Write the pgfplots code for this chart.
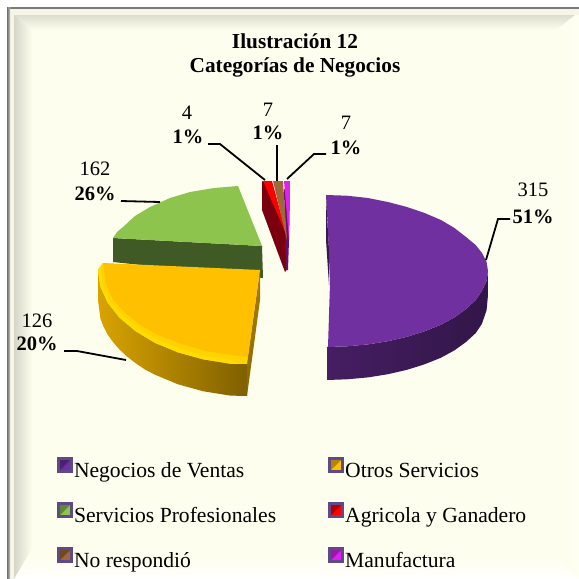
\documentclass[border=0pt]{standalone}
\usepackage{pgfplots}
\pgfplotsset{compat=1.18}
\usepackage{fontspec}
\setmainfont{Liberation Serif}
\definecolor{cream}{HTML}{FEFEEE}
\definecolor{vPurple}{HTML}{7030A0}
\definecolor{vYellow}{HTML}{FFC000}
\definecolor{vGreen}{HTML}{8DC44E}
\definecolor{vRed}{HTML}{FF0000}
\definecolor{vBrown}{HTML}{A0683A}
\definecolor{vMag}{HTML}{E020F0}
\definecolor{dGreen}{HTML}{3F5A25}
\definecolor{dRed}{HTML}{7A0010}
\definecolor{dMag}{HTML}{6B1060}
\definecolor{legFrame}{HTML}{5E4A88}
\newcommand{\lab}[1]{\fontsize{20.5}{22}\selectfont #1}
\newcommand{\pct}[1]{\fontsize{20.5}{22}\selectfont\bfseries #1}
\begin{document}
\begin{tikzpicture}
\path[use as bounding box] (0,0) rectangle (579pt,579pt);
\begin{axis}[
  at={(0,0)}, anchor=south west,
  hide axis, scale only axis, width=579pt, height=579pt,
  xmin=0, xmax=579, ymin=0, ymax=579, y dir=reverse, clip=true,
  legend columns=2,
  legend cell align=left,
  legend image code/.code={
    \fill[legFrame] (0pt,-1pt) rectangle (16pt,15pt);
    \path[#1] (3pt,2pt) rectangle (13pt,12pt);
    \fill[black,opacity=.3] (3pt,2pt) -- (3pt,12pt) -- (13pt,12pt) -- cycle;
  },
  legend style={draw=none, fill=none, at={(axis cs:57,457)}, anchor=north west,
    inner sep=0pt, outer sep=0pt, row sep=20pt, column sep=0pt,
    nodes={inner sep=0pt, text height=15pt, text depth=5pt, font=\fontsize{21.6}{23}\selectfont},
    /tikz/column 1/.style={column sep=1pt},
    /tikz/column 2/.style={column sep=52pt},
    /tikz/column 3/.style={column sep=1pt}},
]
% ---------- frame
\fill[white] (axis cs:0,0) rectangle (axis cs:579,579);
\fill[cream] (axis cs:7,7) rectangle (axis cs:579,579);
\shade[left color=cream, right color=cream!80!white] (axis cs:556,30) -- (axis cs:579,12) -- (axis cs:579,579) -- (axis cs:556,556) -- cycle;
\shade[top color=cream, bottom color=white!90!cream] (axis cs:30,556) -- (axis cs:556,556) -- (axis cs:579,579) -- (axis cs:12,579) -- cycle;
\shade[left color=black!16!cream, right color=cream] (axis cs:14,15) -- (axis cs:32,30) -- (axis cs:32,548) -- (axis cs:14,579) -- cycle;
\shade[top color=black!13!cream, bottom color=cream] (axis cs:14,15) -- (axis cs:575,15) -- (axis cs:556,30) -- (axis cs:32,30) -- cycle;
\fill[black!3!cream] (axis cs:9,9) rectangle (axis cs:14,579);
\fill[black!3!cream] (axis cs:9,9) rectangle (axis cs:579,15);
\fill[black!52] (axis cs:7,7) rectangle (axis cs:579,9);
\shade[left color=black!55, right color=black!25] (axis cs:7,7) rectangle (axis cs:10,579);

% ---------- side faces first
% green side
\addplot[forget plot, fill=dGreen, draw=none] coordinates {(113,238)(262,246)(263,278)(113,262)} --cycle;
% yellow side
\addplot[forget plot, draw=none, left color=vYellow!85!black, middle color=vYellow!82!black, right color=vYellow!50!black] coordinates {
 (98,270)(100.4,286)(107.6,302)(119.4,317)(135.4,331)(155.2,343)(178,352)(203.3,359)(230.2,363)(247,363)
 (247,396)(230.2,395.6)(203.3,391.3)(178,384.3)(155.2,374.8)(145,369.5)(135.4,363)(127,356.5)(119.4,349.5)(113,342)(107.6,334.5)(103.5,326.5)(100.4,318.5)(98,300)} --cycle;
% yellow right face
\addplot[forget plot, draw=none, top color=vYellow!65!black, bottom color=vYellow!55!black] coordinates {(260,270)(260,300)(247,396)(247,363)} --cycle;
% purple side
\addplot[forget plot, draw=none, left color=vPurple!62!black, middle color=vPurple!40!black, right color=vPurple!45!black] coordinates {
 (488,271)(486.6,280.9)(482,290.7)(475.7,300.1)(466,309)(454.5,317.3)(441,324.7)(424.6,331.3)(407,336.8)(388,341.2)(368,344.4)(347,346.3)(327,347)
 (327,380)(347,379.3)(368,377.4)(388,374.2)(407,369.8)(424.6,364.3)(441,357.7)(454.5,350.3)(466,342)(475.7,333.1)(482,323.7)(486.6,310)(488,295)} --cycle;
% dark sides of the thin slices
\addplot[forget plot, fill=dRed, draw=none] coordinates {(262,181)(262,210)(285,272)(288,268)(287,238)(270,185)} --cycle;
\addplot[forget plot, fill=dMag, draw=none] coordinates {(284,190)(290,181)(289,240)(288,270)(286,270)} --cycle;

% ---------- top faces, in the legend's order
\addplot[fill=vPurple, draw=none] coordinates {
 (326,195)(347,195.7)(368,198)(388,202)(407,207)(424.6,213)(441,220)(454.5,228)(466,237)(475.7,245)(482,253)(486.6,262)(488,271)
 (486.6,280.9)(482,290.7)(475.7,300.1)(466,309)(454.5,317.3)(441,324.7)(424.6,331.3)(407,336.8)(388,341.2)(368,344.4)(347,346.3)(328,347)(330,283)(328,230)} --cycle;
\addlegendentry{Negocios de Ventas}
\addplot[fill=vYellow, draw=none] coordinates {
 (103,263)(98,270)(100.4,286.5)(107.6,302.5)(119.4,317.5)(135.4,331)(155.2,342.8)(178,352.3)(203.3,359.3)(230.2,363.6)(247,364)(260,270)} --cycle;
\addlegendentry{Otros Servicios}
\addplot[fill=vGreen, draw=none] coordinates {
 (113,238)(117,232)(123,227)(135,216)(150,207)(170,198)(190,192)(214,188)(238,186)(262,246)} --cycle;
\addlegendentry{Servicios Profesionales}
\addplot[fill=vRed, draw=none] coordinates {(263,181)(272,181)(287,236)} --cycle;
\addlegendentry{Agricola y Ganadero}
\addplot[fill=vBrown, draw=none] coordinates {(273,181)(283,181)(287,240)} --cycle;
\addlegendentry{No respondió}
\addplot[fill=vMag, draw=none] coordinates {(284,181)(290,181)(289,240)} --cycle;
\addlegendentry{Manufactura}

% ---------- extras on the top faces
\addplot[forget plot, fill=vYellow!70!yellow, draw=none] coordinates {
 (103,263)(98,270)(100.4,286.5)(107.6,302.5)(119.4,317.5)(135.4,331)(155.2,342.8)(178,352.3)(203.3,359.3)(230.2,363.6)(247,364)
 (247,357)(231,355)(205,351)(181,344)(159,335.6)(140,325)(125,313)(113,300)(106,285)(104,270)} --cycle;
\addplot[forget plot, fill=vYellow!55!yellow, draw=none] coordinates {
 (103,263)(98,270)(100.4,286.5)(107.6,302.5)(119.4,317.5)(135.4,331)(155.2,342.8)(178,352.3)(203.3,359.3)(230.2,363.6)(240,364)
 (231,360)(205,356)(181,349)(157,339.5)(138,328)(123,315.5)(110,301)(103,285)(101,270)} --cycle;
\addplot[forget plot, fill=vPurple!50!black, draw=none] coordinates {(326,197)(326,240)(329,285)(329,250)} --cycle;

% ---------- leader lines
\addplot[forget plot, black, line width=1.8pt] coordinates {(486,260)(498,219)(510,219)};
\addplot[forget plot, black, line width=1.8pt] coordinates {(121,201)(160,202)};
\addplot[forget plot, black, line width=1.8pt] coordinates {(208,144)(220,144)(265,180)};
\addplot[forget plot, black, line width=2.2pt] coordinates {(277,145)(277,181)};
\addplot[forget plot, black, line width=1.8pt] coordinates {(326,154)(314,154)(287,179)};
\addplot[forget plot, black, line width=1.8pt] coordinates {(64,351)(77,351)(126,360)};

% ---------- texts
\node[align=center, font=\fontsize{21.3}{23.5}\selectfont\bfseries] at (axis cs:295,55.5) {Ilustración 12\\Categorías de Negocios};
\node at (axis cs:533,190) {\lab{315}};
\node at (axis cs:533,217) {\pct{51\%}};
\node at (axis cs:95,169) {\lab{162}};
\node at (axis cs:95,194) {\pct{26\%}};
\node at (axis cs:37,321) {\lab{126}};
\node at (axis cs:37,344) {\pct{20\%}};
\node at (axis cs:187,113) {\lab{4}};
\node at (axis cs:188,137) {\pct{1\%}};
\node at (axis cs:268,110) {\lab{7}};
\node at (axis cs:268,133) {\pct{1\%}};
\node at (axis cs:346,123) {\lab{7}};
\node at (axis cs:346,148) {\pct{1\%}};
\end{axis}
\end{tikzpicture}
\end{document}
